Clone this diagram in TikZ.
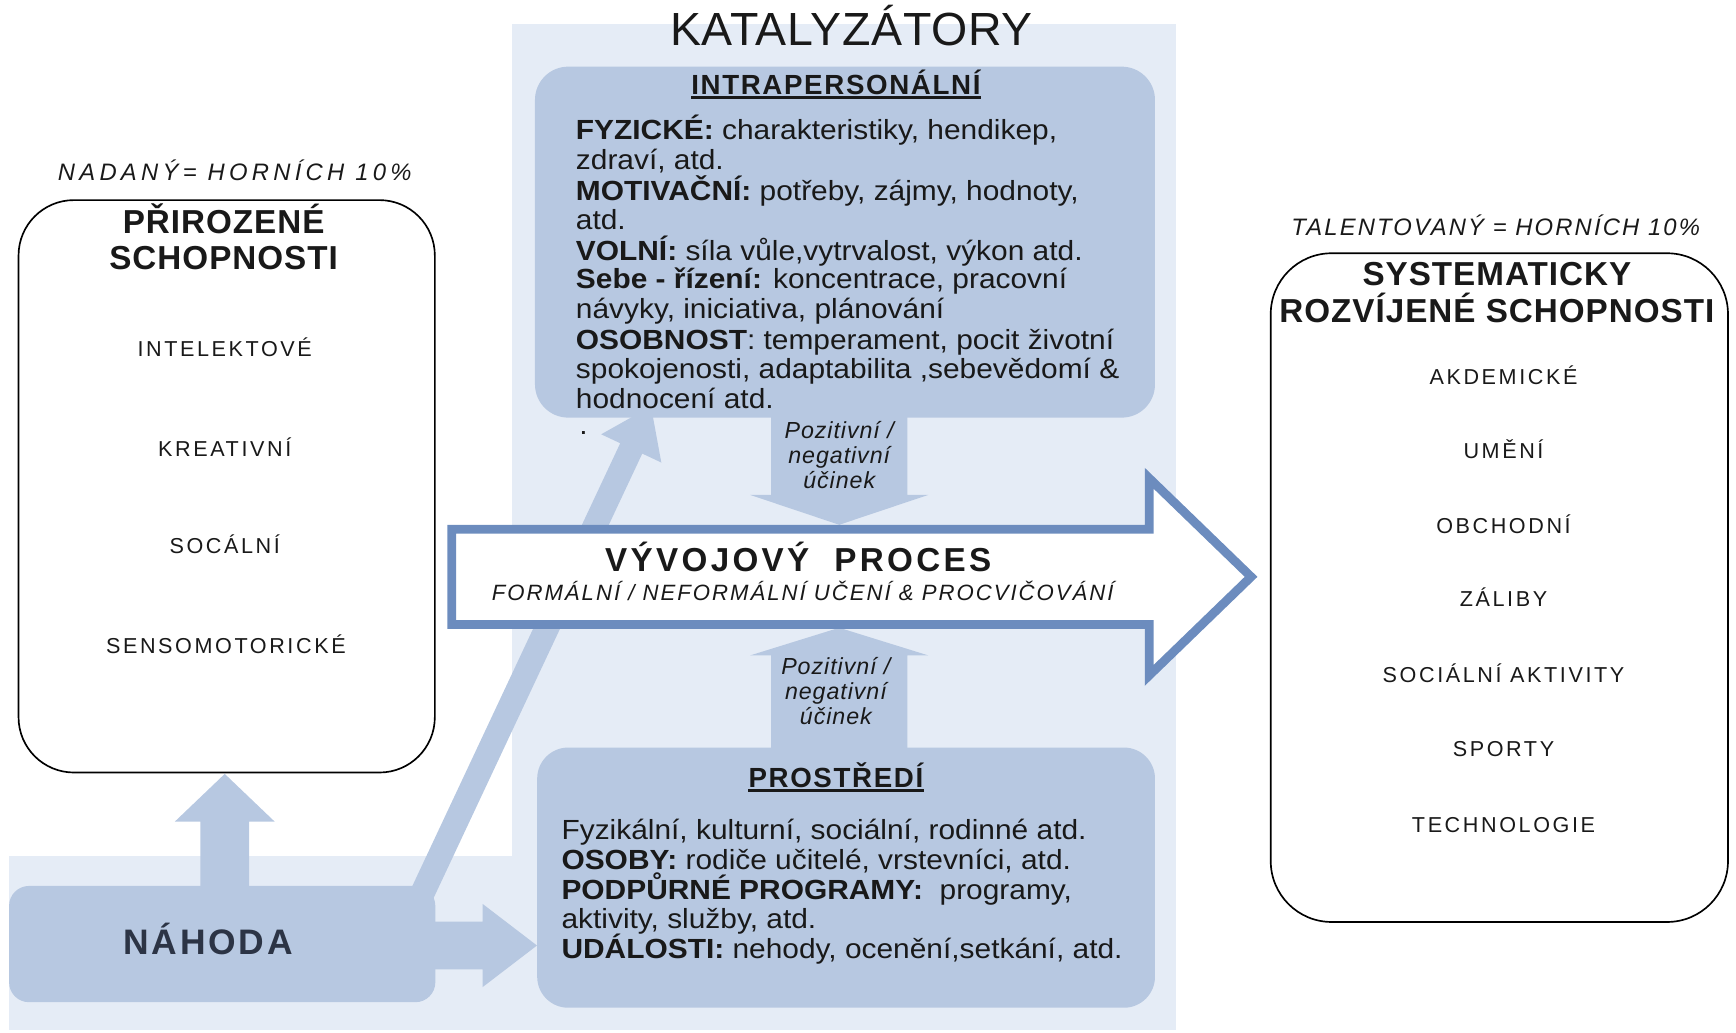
\documentclass[tikz,border=0pt]{standalone}
\usepackage{fontspec}
\setmainfont{Liberation Sans}
\newfontfamily\bodyfont[FakeStretch=1.08]{Liberation Sans}
\usetikzlibrary{calc}
\definecolor{panel}{RGB}{229,236,246}
\definecolor{mid}{RGB}{183,200,225}
\definecolor{procb}{RGB}{108,140,190}
\definecolor{ink}{RGB}{25,25,25}
\definecolor{navy}{RGB}{44,52,69}
% block arrow: start, end, half shaft, half head, head length
\newcommand\blockarrow[5]{%
  \path ($(#2)!#5!(#1)$) coordinate (hb);
  \fill[mid] ($(#1)!#3!90:(#2)$) -- ($(hb)!#3!90:(#2)$) -- ($(hb)!#4!90:(#2)$)
    -- (#2) -- ($(hb)!#4!-90:(#2)$) -- ($(hb)!#3!-90:(#2)$) -- ($(#1)!#3!-90:(#2)$) -- cycle;}
\begin{document}
\begin{tikzpicture}[x=1pt,y=-1pt,
  lbl/.style={inner sep=0pt, text=ink},
  box/.style={draw=black, line width=1.5pt, fill=white, anchor=north west, inner sep=0pt},
  midbox/.style={fill=mid, anchor=north west, inner sep=0pt},
  bodytxt/.style={lbl, anchor=base west, font=\bodyfont\fontsize{25}{27}\selectfont},
  item/.style={lbl, anchor=base, font=\fontsize{19.5}{21}\selectfont\addfontfeature{LetterSpace=12}},
  boxhead/.style={lbl, anchor=base, font=\fontsize{30}{32}\selectfont\bfseries\addfontfeature{LetterSpace=3}},
  subhead/.style={lbl, anchor=base, font=\fontsize{25}{27}\selectfont\bfseries\addfontfeature{LetterSpace=6}},
  effect/.style={lbl, anchor=base, font=\fontsize{21}{23}\selectfont\itshape\addfontfeature{LetterSpace=4}},
  uline/.style={ink, line width=2pt}
]
\useasboundingbox (0,0) rectangle (1568,933);

% light catalyst panel
\fill[panel] (462,22) rectangle (1062,930);
\fill[panel] (8,773) rectangle (462,930);

% block arrows from chance
\coordinate (upS) at (203,812);   \coordinate (upT) at (203,699);
\coordinate (rtS) at (385,854);   \coordinate (rtT) at (485,854);
\coordinate (dgS) at (380,810);   \coordinate (dgT) at (588,367);
\blockarrow{upS}{upT}{22pt}{45pt}{43pt}
\blockarrow{rtS}{rtT}{21.5pt}{37.5pt}{49pt}
\blockarrow{dgS}{dgT}{11pt}{30pt}{42pt}

% chance box
\node[midbox, rounded corners=18pt, minimum width=385pt, minimum height=105pt] (nahoda) at (8,800) {};

% natural abilities box
\node[box, rounded corners=50pt, minimum width=376pt, minimum height=517pt] (nat) at (16,180) {};

% catalyst boxes
\node[midbox, rounded corners=30pt, minimum width=560pt, minimum height=317pt] (intra) at (483,60) {};
\node[midbox, rounded corners=28pt, minimum width=558pt, minimum height=235pt] (env) at (485,675) {};

% effect arrows
\coordinate (efAS) at (758,370);  \coordinate (efAT) at (758,474);
\coordinate (efBS) at (758,682);  \coordinate (efBT) at (758,567);
\blockarrow{efAS}{efAT}{61.5pt}{80.5pt}{27pt}
\blockarrow{efBS}{efBT}{61.5pt}{80.5pt}{25pt}

% developmental process arrow
\draw[procb, fill=white, line width=8pt, miter limit=10]
  (408,478) -- (1038,478) -- (1038,432) -- (1130,521) -- (1038,610) -- (1038,564) -- (408,564) -- cycle;

% systematically developed abilities box
\node[box, rounded corners=55pt, minimum width=413pt, minimum height=604pt] (sys) at (1147,228) {};

% ---------- texts ----------
\node[lbl, anchor=base, font=\fontsize{42}{44}\selectfont\addfontfeature{LetterSpace=1.5}] (kat) at (769,41) {KATALYZÁTORY};

% left
\node[lbl, anchor=base, font=\fontsize{21.5}{23}\selectfont\itshape\addfontfeature{LetterSpace=18}] (nadany) at (212,163) {NADANÝ= HORNÍCH 10\%};
\node[boxhead] (nat1) at (202,211) {PŘIROZENÉ};
\node[boxhead] (nat2) at (202,243) {SCHOPNOSTI};
\node[item] (n1) at (203,322) {INTELEKTOVÉ};
\node[item] (n2) at (203,412) {KREATIVNÍ};
\node[item] (n3) at (203,500) {SOCÁLNÍ};
\node[item] (n4) at (204,590) {SENSOMOTORICKÉ};

\node[lbl, anchor=base, text=navy, font=\fontsize{32}{34}\selectfont\bfseries\addfontfeature{LetterSpace=8}] (nah) at (188,862) {NÁHODA};

% intrapersonal
\node[subhead] (hIntra) at (755,85) {INTRAPERSONÁLNÍ};
\draw[uline] ([yshift=-3pt]hIntra.base west) -- ([yshift=-3pt]hIntra.base east);
\node[bodytxt] (i1) at (520,126) {\textbf{FYZICKÉ:} charakteristiky, hendikep,};
\node[bodytxt] (i2) at (520,153) {zdraví, atd.};
\node[bodytxt] (i3) at (520,181) {\textbf{MOTIVAČNÍ:} potřeby, zájmy, hodnoty,};
\node[bodytxt] (i4) at (520,207) {atd.};
\node[bodytxt] (i5) at (520,235) {\textbf{VOLNÍ:} síla vůle,vytrvalost, výkon atd.};
\node[bodytxt] (i6) at (520,261) {\textbf{Sebe - řízení:} koncentrace, pracovní};
\node[bodytxt] (i7) at (520,288) {návyky, iniciativa, plánování};
\node[bodytxt] (i8) at (520,316) {\textbf{OSOBNOST}: temperament, pocit životní};
\node[bodytxt] (i9) at (520,342) {spokojenosti, adaptabilita ,sebevědomí \&};
\node[bodytxt] (i10) at (520,369) {hodnocení atd.};
\node[bodytxt] (dot) at (523,392) {.};

% effects
\node[effect] (ea1) at (758,396) {Pozitivní /};
\node[effect] (ea2) at (758,419) {negativní};
\node[effect] (ea3) at (758,441) {účinek};
\node[effect] (eb1) at (755,609) {Pozitivní /};
\node[effect] (eb2) at (755,632) {negativní};
\node[effect] (eb3) at (755,654) {účinek};

% process
\node[lbl, anchor=base, font=\fontsize{30}{32}\selectfont\bfseries\addfontfeature{LetterSpace=10}] (proc1) at (721,516) {VÝVOJOVÝ\ \ PROCES};
\node[lbl, anchor=base, font=\fontsize{20}{22}\selectfont\itshape\addfontfeature{LetterSpace=9}] (proc2) at (725,542) {FORMÁLNÍ / NEFORMÁLNÍ UČENÍ \& PROCVIČOVÁNÍ};

% environment
\node[subhead] (hEnv) at (755,711) {PROSTŘEDÍ};
\draw[uline] ([yshift=-3pt]hEnv.base west) -- ([yshift=-3pt]hEnv.base east);
\node[bodytxt] (p1) at (507,758) {Fyzikální, kulturní, sociální, rodinné atd.};
\node[bodytxt] (p2) at (507,785) {\textbf{OSOBY:} rodiče učitelé, vrstevníci, atd.};
\node[bodytxt] (p3) at (507,812) {\textbf{PODPŮRNÉ PROGRAMY:}\ \ programy,};
\node[bodytxt] (p4) at (507,839) {aktivity, služby, atd.};
\node[bodytxt] (p5) at (507,866) {\textbf{UDÁLOSTI:} nehody, ocenění,setkání, atd.};

% right
\node[lbl, anchor=base, font=\fontsize{21.5}{23}\selectfont\itshape\addfontfeature{LetterSpace=9}] (talent) at (1351,213) {TALENTOVANÝ = HORNÍCH 10\%};
\node[boxhead] (sys1) at (1352,258) {SYSTEMATICKY};
\node[boxhead] (sys2) at (1352,291) {ROZVÍJENÉ SCHOPNOSTI};
\node[item] (s1) at (1358,347) {AKDEMICKÉ};
\node[item] (s2) at (1358,414) {UMĚNÍ};
\node[item] (s3) at (1358,482) {OBCHODNÍ};
\node[item] (s4) at (1358,548) {ZÁLIBY};
\node[item] (s5) at (1358,616) {SOCIÁLNÍ AKTIVITY};
\node[item] (s6) at (1358,683) {SPORTY};
\node[item] (s7) at (1358,752) {TECHNOLOGIE};
\end{tikzpicture}
\end{document}
